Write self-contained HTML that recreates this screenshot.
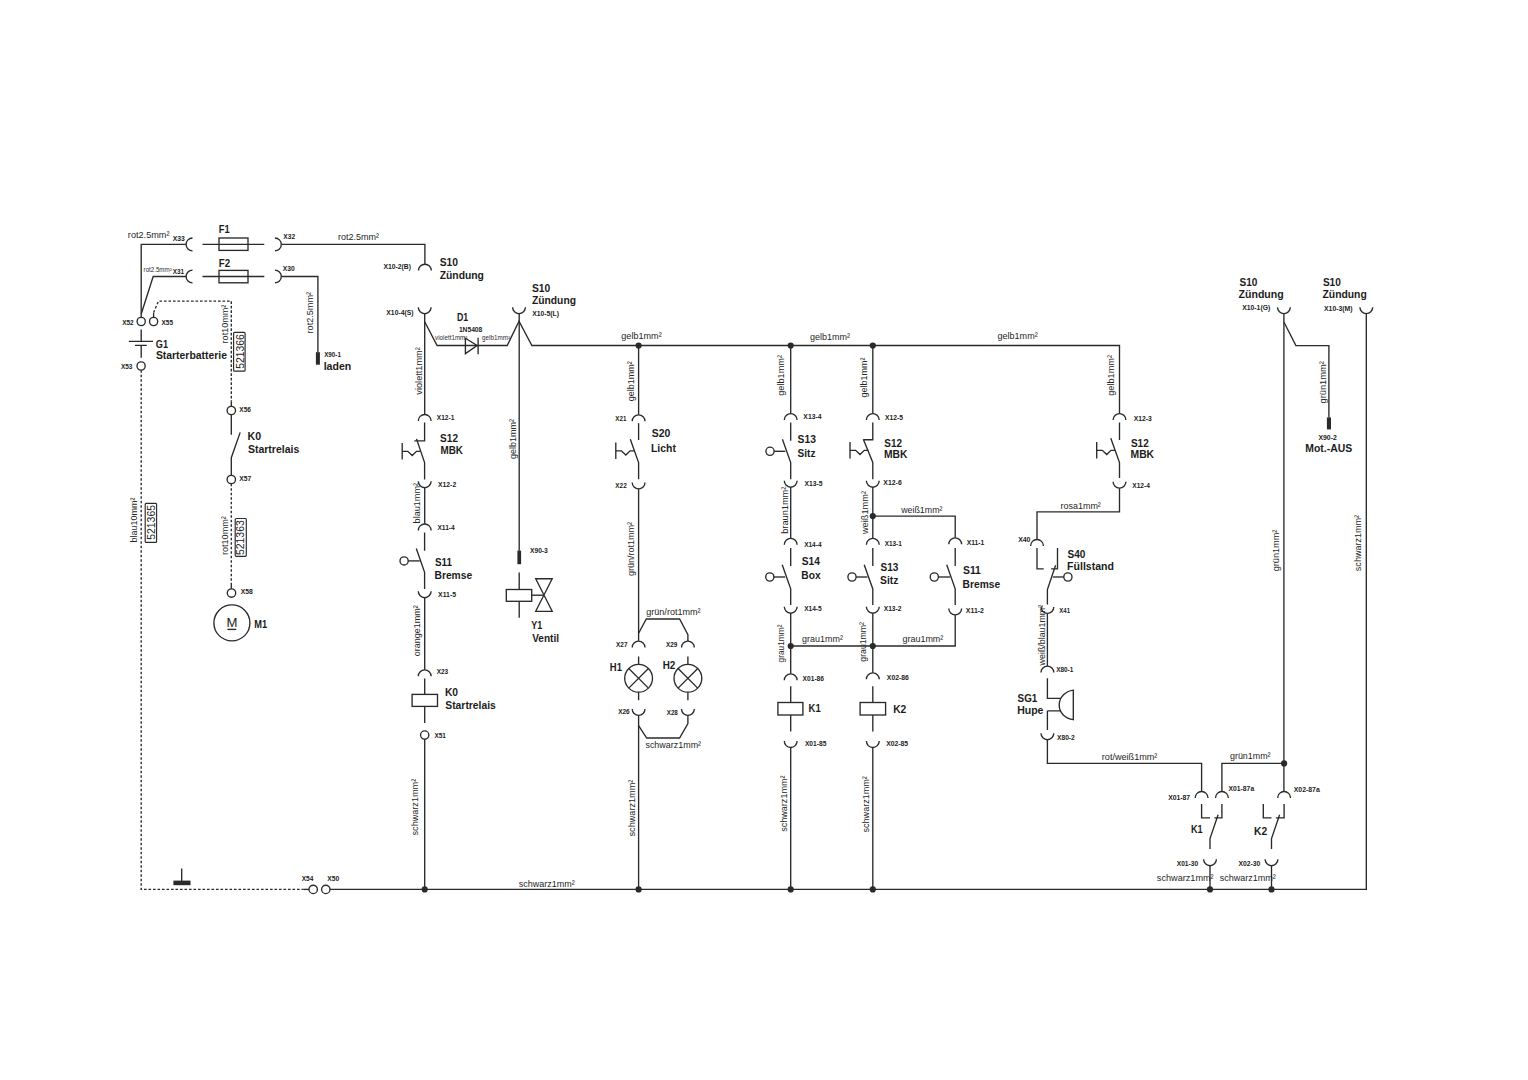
<!DOCTYPE html>
<html><head><meta charset="utf-8"><title>Schaltplan</title>
<style>
html,body{margin:0;padding:0;background:#fff;}
body{width:1528px;height:1080px;overflow:hidden;}
svg{display:block;}
text{font-family:"Liberation Sans",sans-serif;}
</style></head><body>
<svg width="1528" height="1080" viewBox="0 0 1528 1080">
<rect width="1528" height="1080" fill="#fff"/>
<g fill="none" stroke="#2a2a2a" stroke-width="1.35" stroke-linecap="butt" stroke-linejoin="miter">
<path d="M141.2 317.4V244.4H185.9"/>
<path d="M192.50 238.00A6.4 6.4 0 0 0 192.50 250.80"/>
<path d="M202.5 244.4H264.3"/>
<rect x="219" y="238" width="29" height="12.4"/>
<path d="M274.90 238.00A6.4 6.4 0 0 1 274.90 250.80"/>
<path d="M281.5 244.4H424.9V264"/>
<path d="M418.50 270.60A6.4 6.4 0 0 1 431.30 270.60"/>
<path d="M192.50 270.10A6.4 6.4 0 0 0 192.50 282.90"/>
<path d="M185.9 276.5H153.2L141.2 314"/>
<path d="M202.5 276.5H264.3"/>
<rect x="219" y="270.4" width="29" height="12.4"/>
<path d="M274.90 270.10A6.4 6.4 0 0 1 274.90 282.90"/>
<path d="M281.5 276.5H317.9V352.5"/>
<rect x="315.9" y="352.2" width="4.0" height="12.5" fill="#2a2a2a" stroke="none"/>
<text stroke="none" x="127.89" y="238.3" font-size="9.0" fill="#262626" textLength="41.58" lengthAdjust="spacingAndGlyphs">rot2.5mm²</text>
<text stroke="none" x="172.74" y="240.7" font-size="7.0" font-weight="bold" fill="#1c1c1c" textLength="12.11" lengthAdjust="spacingAndGlyphs">X33</text>
<text stroke="none" x="218.78" y="233.4" font-size="10.4" font-weight="bold" fill="#1c1c1c" textLength="10.88" lengthAdjust="spacingAndGlyphs">F1</text>
<text stroke="none" x="283.34" y="238.89999999999998" font-size="7.0" font-weight="bold" fill="#1c1c1c" textLength="11.72" lengthAdjust="spacingAndGlyphs">X32</text>
<text stroke="none" x="337.90" y="239.8" font-size="9.0" fill="#262626" textLength="41.07" lengthAdjust="spacingAndGlyphs">rot2.5mm²</text>
<text stroke="none" x="218.74" y="267.0" font-size="10.4" font-weight="bold" fill="#1c1c1c" textLength="11.45" lengthAdjust="spacingAndGlyphs">F2</text>
<text stroke="none" x="143.59" y="272.2" font-size="6.5" fill="#2e2e2e" textLength="28.13" lengthAdjust="spacingAndGlyphs">rot2.5mm²</text>
<text stroke="none" x="172.74" y="273.7" font-size="7.0" font-weight="bold" fill="#1c1c1c" textLength="11.44" lengthAdjust="spacingAndGlyphs">X31</text>
<text stroke="none" x="282.74" y="271.3" font-size="7.0" font-weight="bold" fill="#1c1c1c" textLength="11.93" lengthAdjust="spacingAndGlyphs">X30</text>
<text stroke="none" transform="translate(313.4 333.40) rotate(-90)" font-size="9.0" fill="#262626" textLength="41.38" lengthAdjust="spacingAndGlyphs">rot2.5mm²</text>
<text stroke="none" x="324.14" y="357.3" font-size="7.0" font-weight="bold" fill="#1c1c1c" textLength="16.83" lengthAdjust="spacingAndGlyphs">X90-1</text>
<text stroke="none" x="323.66" y="369.8" font-size="10.4" font-weight="bold" fill="#1c1c1c" textLength="27.59" lengthAdjust="spacingAndGlyphs">laden</text>
<text stroke="none" x="383.44" y="268.5" font-size="7.0" font-weight="bold" fill="#1c1c1c" textLength="27.50" lengthAdjust="spacingAndGlyphs">X10-2(B)</text>
<text stroke="none" x="439.70" y="266.4" font-size="10.4" font-weight="bold" fill="#1c1c1c" textLength="18.32" lengthAdjust="spacingAndGlyphs">S10</text>
<text stroke="none" x="439.69" y="278.8" font-size="10.4" font-weight="bold" fill="#1c1c1c" textLength="44.20" lengthAdjust="spacingAndGlyphs">Zündung</text>
<circle cx="141.2" cy="321.5" r="4.1"/>
<circle cx="153.6" cy="321.5" r="4.1"/>
<text stroke="none" x="122.14" y="324.9" font-size="7.0" font-weight="bold" fill="#1c1c1c" textLength="11.52" lengthAdjust="spacingAndGlyphs">X52</text>
<text stroke="none" x="161.54" y="324.7" font-size="7.0" font-weight="bold" fill="#1c1c1c" textLength="11.44" lengthAdjust="spacingAndGlyphs">X55</text>
<path d="M153.6 317.4V312.6"/>
<path d="M153.6 312.6L158.5 301.1H231.3V401.3" stroke-dasharray="2.6 1.9"/>
<path d="M231.3 401.3V406.3"/>
<path d="M141.2 329.4V341.4M128.8 341.4H153M135 345.3H146.8M141.2 345.3V357.7"/>
<circle cx="141.1" cy="366.0" r="4.1"/>
<text stroke="none" x="120.94" y="369.0" font-size="7.0" font-weight="bold" fill="#1c1c1c" textLength="11.49" lengthAdjust="spacingAndGlyphs">X53</text>
<text stroke="none" x="155.82" y="348.2" font-size="10.4" font-weight="bold" fill="#1c1c1c" textLength="12.23" lengthAdjust="spacingAndGlyphs">G1</text>
<text stroke="none" x="155.90" y="358.7" font-size="10.4" font-weight="bold" fill="#1c1c1c" textLength="71.05" lengthAdjust="spacingAndGlyphs">Starterbatterie</text>
<text stroke="none" transform="translate(227.6 343.40) rotate(-90)" font-size="9.0" fill="#262626" textLength="38.77" lengthAdjust="spacingAndGlyphs">rot10mm²</text>
<rect x="233.6" y="332.4" width="11.5" height="38.8" rx="1" stroke-width="1.15"/>
<text stroke="none" transform="translate(243.8 368.82) rotate(-90)" font-size="10.0" fill="#222" textLength="34.67" lengthAdjust="spacingAndGlyphs">521366</text>
<circle cx="231.3" cy="410.5" r="4.2"/>
<text stroke="none" x="239.34" y="411.5" font-size="7.0" font-weight="bold" fill="#1c1c1c" textLength="11.49" lengthAdjust="spacingAndGlyphs">X56</text>
<path d="M231.3 414.7V434.7M240.2 432.4L231.3 457.7V475.3"/>
<text stroke="none" x="247.49" y="439.9" font-size="10.4" font-weight="bold" fill="#1c1c1c" textLength="13.54" lengthAdjust="spacingAndGlyphs">K0</text>
<text stroke="none" x="247.90" y="453.4" font-size="10.4" font-weight="bold" fill="#1c1c1c" textLength="51.33" lengthAdjust="spacingAndGlyphs">Startrelais</text>
<circle cx="231.3" cy="479.5" r="4.2"/>
<text stroke="none" x="239.34" y="481.4" font-size="7.0" font-weight="bold" fill="#1c1c1c" textLength="11.95" lengthAdjust="spacingAndGlyphs">X57</text>
<path d="M231.3 483.7V583" stroke-dasharray="2.6 1.9"/>
<path d="M231.3 583V588.8"/>
<text stroke="none" transform="translate(228.2 555.00) rotate(-90)" font-size="9.0" fill="#262626" textLength="38.77" lengthAdjust="spacingAndGlyphs">rot10mm²</text>
<rect x="235.2" y="518.5" width="11.1" height="37.8" rx="1" stroke-width="1.15"/>
<text stroke="none" transform="translate(244.4 555.12) rotate(-90)" font-size="10.0" fill="#222" textLength="34.88" lengthAdjust="spacingAndGlyphs">521363</text>
<circle cx="231.5" cy="593.0" r="4.2"/>
<text stroke="none" x="240.74" y="594.3000000000001" font-size="7.0" font-weight="bold" fill="#1c1c1c" textLength="12.07" lengthAdjust="spacingAndGlyphs">X58</text>
<circle cx="231.9" cy="622.9" r="18.0"/>
<text stroke="none" x="226.42" y="626.6" font-size="12.8" fill="#1c1c1c" textLength="10.96" lengthAdjust="spacingAndGlyphs">M</text>
<path d="M227.4 629.4H236.2"/>
<text stroke="none" x="254.18" y="628.0" font-size="10.4" font-weight="bold" fill="#1c1c1c" textLength="12.88" lengthAdjust="spacingAndGlyphs">M1</text>
<path d="M141.2 370.2V889.4H303.6" stroke-dasharray="2.6 1.9"/>
<path d="M303.6 889.4H309"/>
<text stroke="none" transform="translate(137.4 542.38) rotate(-90)" font-size="9.0" fill="#262626" textLength="44.95" lengthAdjust="spacingAndGlyphs">blau10mm²</text>
<rect x="145.2" y="503.4" width="11.4" height="39" rx="1" stroke-width="1.15"/>
<text stroke="none" transform="translate(154.8 539.82) rotate(-90)" font-size="10.0" fill="#222" textLength="34.86" lengthAdjust="spacingAndGlyphs">521365</text>
<path d="M181.7 868.5V881"/>
<rect x="173.4" y="880.6" width="17.1" height="4.6" fill="#2a2a2a" stroke="none"/>
<circle cx="313.2" cy="889.4" r="4.2"/>
<circle cx="325.8" cy="889.4" r="4.2"/>
<text stroke="none" x="301.74" y="881.3000000000001" font-size="7.0" font-weight="bold" fill="#1c1c1c" textLength="11.69" lengthAdjust="spacingAndGlyphs">X54</text>
<text stroke="none" x="327.34" y="881.3000000000001" font-size="7.0" font-weight="bold" fill="#1c1c1c" textLength="11.93" lengthAdjust="spacingAndGlyphs">X50</text>
<path d="M330 889.4H1366.3V313.8"/>
<text stroke="none" x="518.75" y="887.0" font-size="9.0" fill="#262626" textLength="56.02" lengthAdjust="spacingAndGlyphs">schwarz1mm²</text>
<path d="M418.30 307.30A6.4 6.4 0 0 0 431.10 307.30"/>
<text stroke="none" x="386.34" y="314.7" font-size="7.0" font-weight="bold" fill="#1c1c1c" textLength="27.20" lengthAdjust="spacingAndGlyphs">X10-4(S)</text>
<path d="M424.7 313.9V414.3"/>
<path d="M424.7 321.8L437.1 345.5H507.2L519 321.3L531.9 345.5H1119.5V413.4"/>
<text stroke="none" transform="translate(422.0 394.63) rotate(-90)" font-size="9.0" fill="#262626" textLength="47.41" lengthAdjust="spacingAndGlyphs">violett1mm²</text>
<path d="M465.4 338.3L477.1 345.5L465.4 353.6Z"/>
<path d="M478.1 337.7V354.2"/>
<text stroke="none" x="456.91" y="321.4" font-size="10.4" font-weight="bold" fill="#1c1c1c" textLength="11.23" lengthAdjust="spacingAndGlyphs">D1</text>
<text stroke="none" x="458.88" y="332.2" font-size="7.0" font-weight="bold" fill="#1c1c1c" textLength="23.43" lengthAdjust="spacingAndGlyphs">1N5408</text>
<text stroke="none" x="435.08" y="339.9" font-size="6.5" fill="#2e2e2e" textLength="32.34" lengthAdjust="spacingAndGlyphs">violett1mm²</text>
<text stroke="none" x="482.04" y="339.9" font-size="6.5" fill="#2e2e2e" textLength="27.98" lengthAdjust="spacingAndGlyphs">gelb1mm²</text>
<path d="M512.60 307.30A6.4 6.4 0 0 0 525.40 307.30"/>
<text stroke="none" x="532.24" y="315.5" font-size="7.0" font-weight="bold" fill="#1c1c1c" textLength="26.80" lengthAdjust="spacingAndGlyphs">X10-5(L)</text>
<text stroke="none" x="532.00" y="291.6" font-size="10.4" font-weight="bold" fill="#1c1c1c" textLength="18.32" lengthAdjust="spacingAndGlyphs">S10</text>
<text stroke="none" x="531.99" y="303.9" font-size="10.4" font-weight="bold" fill="#1c1c1c" textLength="43.99" lengthAdjust="spacingAndGlyphs">Zündung</text>
<path d="M418.30 420.90A6.4 6.4 0 0 1 431.10 420.90"/>
<text stroke="none" x="436.84" y="420.09999999999997" font-size="7.0" font-weight="bold" fill="#1c1c1c" textLength="17.44" lengthAdjust="spacingAndGlyphs">X12-1</text>
<path d="M424.6 422.4V440.9H414.3M416.5 438.9L424.6 462.6V479.4"/>
<path d="M402.2 443.0V459.40000000000003"/>
<path d="M402.2 451.3H407.8L412.2 455.6L416.5 451.3H420.4"/>
<text stroke="none" x="440.11" y="442.2" font-size="10.4" font-weight="bold" fill="#1c1c1c" textLength="17.89" lengthAdjust="spacingAndGlyphs">S12</text>
<text stroke="none" x="440.44" y="454.0" font-size="10.4" font-weight="bold" fill="#1c1c1c" textLength="22.55" lengthAdjust="spacingAndGlyphs">MBK</text>
<path d="M418.30 481.30A6.4 6.4 0 0 0 431.10 481.30"/>
<text stroke="none" x="438.04" y="486.7" font-size="7.0" font-weight="bold" fill="#1c1c1c" textLength="18.13" lengthAdjust="spacingAndGlyphs">X12-2</text>
<path d="M424.7 487.9V523.8"/>
<text stroke="none" transform="translate(420.0 523.39) rotate(-90)" font-size="9.0" fill="#262626" textLength="40.36" lengthAdjust="spacingAndGlyphs">blau1mm²</text>
<path d="M418.30 530.40A6.4 6.4 0 0 1 431.10 530.40"/>
<text stroke="none" x="437.44" y="530.1" font-size="7.0" font-weight="bold" fill="#1c1c1c" textLength="17.29" lengthAdjust="spacingAndGlyphs">X11-4</text>
<path d="M424.6 532.4V550.7M416.3 548.5L424.6 572.4V588.9"/>
<circle cx="404.1" cy="560.9" r="4.1"/>
<path d="M408.2 560.9H419.8"/>
<text stroke="none" x="434.92" y="565.8" font-size="10.4" font-weight="bold" fill="#1c1c1c" textLength="17.04" lengthAdjust="spacingAndGlyphs">S11</text>
<text stroke="none" x="434.51" y="578.7" font-size="10.4" font-weight="bold" fill="#1c1c1c" textLength="37.64" lengthAdjust="spacingAndGlyphs">Bremse</text>
<path d="M418.30 591.30A6.4 6.4 0 0 0 431.10 591.30"/>
<text stroke="none" x="438.04" y="597.3000000000001" font-size="7.0" font-weight="bold" fill="#1c1c1c" textLength="18.05" lengthAdjust="spacingAndGlyphs">X11-5</text>
<path d="M424.7 597.9V669.7"/>
<text stroke="none" transform="translate(419.6 656.18) rotate(-90)" font-size="9.0" fill="#262626" textLength="50.95" lengthAdjust="spacingAndGlyphs">orange1mm²</text>
<path d="M418.30 676.30A6.4 6.4 0 0 1 431.10 676.30"/>
<text stroke="none" x="436.64" y="674.3000000000001" font-size="7.0" font-weight="bold" fill="#1c1c1c" textLength="11.49" lengthAdjust="spacingAndGlyphs">X23</text>
<path d="M424.7 678.5V694.4"/>
<rect x="412.1" y="694.4" width="25.4" height="12.0"/>
<path d="M424.7 706.4V723"/>
<text stroke="none" x="444.91" y="696.1" font-size="10.4" font-weight="bold" fill="#1c1c1c" textLength="13.11" lengthAdjust="spacingAndGlyphs">K0</text>
<text stroke="none" x="445.30" y="709.4" font-size="10.4" font-weight="bold" fill="#1c1c1c" textLength="50.52" lengthAdjust="spacingAndGlyphs">Startrelais</text>
<circle cx="424.7" cy="735.1" r="4.15"/>
<text stroke="none" x="434.44" y="738.0" font-size="7.0" font-weight="bold" fill="#1c1c1c" textLength="11.44" lengthAdjust="spacingAndGlyphs">X51</text>
<path d="M424.7 739.3V889.4"/>
<circle cx="424.7" cy="889.4" r="3.1" fill="#2a2a2a" stroke="none"/>
<text stroke="none" transform="translate(418.4 835.45) rotate(-90)" font-size="9.0" fill="#262626" textLength="56.63" lengthAdjust="spacingAndGlyphs">schwarz1mm²</text>
<path d="M519.2 313.9V550.8"/>
<text stroke="none" transform="translate(516.0 458.88) rotate(-90)" font-size="9.0" fill="#262626" textLength="39.95" lengthAdjust="spacingAndGlyphs">gelb1mm²</text>
<rect x="517.4" y="550.6" width="3.7" height="13.6" fill="#2a2a2a" stroke="none"/>
<text stroke="none" x="529.94" y="552.5" font-size="7.0" font-weight="bold" fill="#1c1c1c" textLength="17.90" lengthAdjust="spacingAndGlyphs">X90-3</text>
<path d="M519.2 572.4V589.5M519.2 601.3V617.7"/>
<rect x="506.3" y="589.5" width="25.4" height="11.8"/>
<path d="M531.7 595.2H543.9"/>
<path d="M535.7 578.7H552.2L535.7 611.3H552.2Z" stroke-linejoin="miter"/>
<text stroke="none" x="531.35" y="628.7" font-size="10.4" font-weight="bold" fill="#1c1c1c" textLength="11.00" lengthAdjust="spacingAndGlyphs">Y1</text>
<text stroke="none" x="532.13" y="642.0" font-size="10.4" font-weight="bold" fill="#1c1c1c" textLength="26.87" lengthAdjust="spacingAndGlyphs">Ventil</text>
<circle cx="638.6" cy="345.5" r="3.1" fill="#2a2a2a" stroke="none"/>
<text stroke="none" x="621.32" y="338.6" font-size="9.0" fill="#262626" textLength="40.35" lengthAdjust="spacingAndGlyphs">gelb1mm²</text>
<path d="M638.6 345.5V414.7"/>
<text stroke="none" transform="translate(634.3 401.18) rotate(-90)" font-size="9.0" fill="#262626" textLength="39.95" lengthAdjust="spacingAndGlyphs">gelb1mm²</text>
<path d="M632.20 421.30A6.4 6.4 0 0 1 645.00 421.30"/>
<text stroke="none" x="615.35" y="421.2" font-size="7.0" font-weight="bold" fill="#1c1c1c" textLength="11.03" lengthAdjust="spacingAndGlyphs">X21</text>
<path d="M638.6 423.3V440M630.3 439.2L638.6 462.5V479.2"/>
<path d="M615.8 442.5V458.90000000000003"/>
<path d="M615.8 450.8H621.4L625.8 455.1L630.0999999999999 450.8H634.0"/>
<text stroke="none" x="651.80" y="437.3" font-size="10.4" font-weight="bold" fill="#1c1c1c" textLength="18.53" lengthAdjust="spacingAndGlyphs">S20</text>
<text stroke="none" x="651.00" y="451.5" font-size="10.4" font-weight="bold" fill="#1c1c1c" textLength="24.93" lengthAdjust="spacingAndGlyphs">Licht</text>
<path d="M632.20 482.50A6.4 6.4 0 0 0 645.00 482.50"/>
<text stroke="none" x="615.34" y="487.8" font-size="7.0" font-weight="bold" fill="#1c1c1c" textLength="11.41" lengthAdjust="spacingAndGlyphs">X22</text>
<path d="M638.6 489.1V640.9"/>
<text stroke="none" transform="translate(634.2 576.08) rotate(-90)" font-size="9.0" fill="#262626" textLength="54.15" lengthAdjust="spacingAndGlyphs">grün/rot1mm²</text>
<path d="M638.6 633.2L646.3 619H679.6L687.9 634.6V640.9"/>
<text stroke="none" x="646.32" y="614.6" font-size="9.0" fill="#262626" textLength="54.15" lengthAdjust="spacingAndGlyphs">grün/rot1mm²</text>
<path d="M632.20 647.50A6.4 6.4 0 0 1 645.00 647.50"/>
<path d="M681.50 647.50A6.4 6.4 0 0 1 694.30 647.50"/>
<text stroke="none" x="616.04" y="646.6" font-size="7.0" font-weight="bold" fill="#1c1c1c" textLength="11.44" lengthAdjust="spacingAndGlyphs">X27</text>
<text stroke="none" x="666.04" y="647.0" font-size="7.0" font-weight="bold" fill="#1c1c1c" textLength="11.39" lengthAdjust="spacingAndGlyphs">X29</text>
<path d="M638.6 656.4V664.4M638.6 692.2V700.3"/>
<circle cx="638.6" cy="678.3" r="13.9"/>
<path d="M628.77 668.47L648.43 688.13M648.43 668.47L628.77 688.13"/>
<path d="M687.9 656.4V664.4M687.9 692.2V700.3"/>
<circle cx="687.9" cy="678.3" r="13.9"/>
<path d="M678.07 668.47L697.73 688.13M697.73 668.47L678.07 688.13"/>
<text stroke="none" x="609.87" y="670.5" font-size="10.4" font-weight="bold" fill="#1c1c1c" textLength="12.10" lengthAdjust="spacingAndGlyphs">H1</text>
<text stroke="none" x="662.64" y="669.1" font-size="10.4" font-weight="bold" fill="#1c1c1c" textLength="12.66" lengthAdjust="spacingAndGlyphs">H2</text>
<path d="M632.20 708.90A6.4 6.4 0 0 0 645.00 708.90"/>
<path d="M681.50 708.90A6.4 6.4 0 0 0 694.30 708.90"/>
<text stroke="none" x="618.14" y="713.9000000000001" font-size="7.0" font-weight="bold" fill="#1c1c1c" textLength="11.49" lengthAdjust="spacingAndGlyphs">X26</text>
<text stroke="none" x="666.75" y="715.3000000000001" font-size="7.0" font-weight="bold" fill="#1c1c1c" textLength="11.05" lengthAdjust="spacingAndGlyphs">X28</text>
<path d="M638.6 715.5V889.4"/>
<path d="M638.6 725.6L646.7 738H679.6L687.9 723.5V715.5"/>
<text stroke="none" x="645.45" y="747.8" font-size="9.0" fill="#262626" textLength="55.62" lengthAdjust="spacingAndGlyphs">schwarz1mm²</text>
<text stroke="none" transform="translate(635.2 836.45) rotate(-90)" font-size="9.0" fill="#262626" textLength="56.83" lengthAdjust="spacingAndGlyphs">schwarz1mm²</text>
<circle cx="638.6" cy="889.4" r="3.1" fill="#2a2a2a" stroke="none"/>
<circle cx="790.7" cy="345.5" r="3.1" fill="#2a2a2a" stroke="none"/>
<text stroke="none" x="810.02" y="339.8" font-size="9.0" fill="#262626" textLength="39.95" lengthAdjust="spacingAndGlyphs">gelb1mm²</text>
<path d="M790.7 345.5V413.4"/>
<text stroke="none" transform="translate(784.3 395.78) rotate(-90)" font-size="9.0" fill="#262626" textLength="40.76" lengthAdjust="spacingAndGlyphs">gelb1mm²</text>
<path d="M784.30 420.00A6.4 6.4 0 0 1 797.10 420.00"/>
<text stroke="none" x="803.34" y="418.7" font-size="7.0" font-weight="bold" fill="#1c1c1c" textLength="18.20" lengthAdjust="spacingAndGlyphs">X13-4</text>
<path d="M790.7 422.5V440.8M782.4 439.2L790.7 462.5V479.2"/>
<circle cx="770.0" cy="451.3" r="4.1"/>
<path d="M774.1 451.3H785.3"/>
<text stroke="none" x="797.60" y="443.1" font-size="10.4" font-weight="bold" fill="#1c1c1c" textLength="18.37" lengthAdjust="spacingAndGlyphs">S13</text>
<text stroke="none" x="797.61" y="456.5" font-size="10.4" font-weight="bold" fill="#1c1c1c" textLength="17.85" lengthAdjust="spacingAndGlyphs">Sitz</text>
<path d="M784.30 480.80A6.4 6.4 0 0 0 797.10 480.80"/>
<text stroke="none" x="804.54" y="486.2" font-size="7.0" font-weight="bold" fill="#1c1c1c" textLength="17.95" lengthAdjust="spacingAndGlyphs">X13-5</text>
<path d="M790.7 487.4V538.1"/>
<text stroke="none" transform="translate(787.8 533.79) rotate(-90)" font-size="9.0" fill="#262626" textLength="47.17" lengthAdjust="spacingAndGlyphs">braun1mm²</text>
<path d="M784.30 544.70A6.4 6.4 0 0 1 797.10 544.70"/>
<text stroke="none" x="804.14" y="546.7" font-size="7.0" font-weight="bold" fill="#1c1c1c" textLength="17.39" lengthAdjust="spacingAndGlyphs">X14-4</text>
<path d="M790.7 548V565.9M782.2 564.7L790.7 588.9V605"/>
<circle cx="769.8" cy="577.0" r="4.1"/>
<path d="M773.9 577H785.2"/>
<text stroke="none" x="801.71" y="564.9" font-size="10.4" font-weight="bold" fill="#1c1c1c" textLength="18.15" lengthAdjust="spacingAndGlyphs">S14</text>
<text stroke="none" x="801.31" y="579.3" font-size="10.4" font-weight="bold" fill="#1c1c1c" textLength="19.36" lengthAdjust="spacingAndGlyphs">Box</text>
<path d="M784.30 606.80A6.4 6.4 0 0 0 797.10 606.80"/>
<text stroke="none" x="804.14" y="610.9000000000001" font-size="7.0" font-weight="bold" fill="#1c1c1c" textLength="17.54" lengthAdjust="spacingAndGlyphs">X14-5</text>
<path d="M790.7 613.4V673.7"/>
<text stroke="none" transform="translate(784.2 662.45) rotate(-90)" font-size="9.0" fill="#262626" textLength="37.91" lengthAdjust="spacingAndGlyphs">grau1mm²</text>
<circle cx="790.7" cy="646.0" r="3.1" fill="#2a2a2a" stroke="none"/>
<path d="M790.7 646H955.2V615.1"/>
<text stroke="none" x="802.12" y="642.0" font-size="9.0" fill="#262626" textLength="40.75" lengthAdjust="spacingAndGlyphs">grau1mm²</text>
<text stroke="none" x="902.52" y="642.0" font-size="9.0" fill="#262626" textLength="40.75" lengthAdjust="spacingAndGlyphs">grau1mm²</text>
<path d="M784.30 680.30A6.4 6.4 0 0 1 797.10 680.30"/>
<text stroke="none" x="802.54" y="680.9000000000001" font-size="7.0" font-weight="bold" fill="#1c1c1c" textLength="21.50" lengthAdjust="spacingAndGlyphs">X01-86</text>
<path d="M790.7 686.3V702.5"/>
<rect x="777.9" y="702.5" width="25.0" height="12.5"/>
<path d="M790.7 715V731.4"/>
<text stroke="none" x="808.57" y="711.8" font-size="10.4" font-weight="bold" fill="#1c1c1c" textLength="12.10" lengthAdjust="spacingAndGlyphs">K1</text>
<path d="M784.30 741.10A6.4 6.4 0 0 0 797.10 741.10"/>
<text stroke="none" x="804.94" y="746.2" font-size="7.0" font-weight="bold" fill="#1c1c1c" textLength="21.44" lengthAdjust="spacingAndGlyphs">X01-85</text>
<path d="M790.7 747.7V889.4"/>
<text stroke="none" transform="translate(787.2 831.75) rotate(-90)" font-size="9.0" fill="#262626" textLength="56.22" lengthAdjust="spacingAndGlyphs">schwarz1mm²</text>
<circle cx="790.7" cy="889.4" r="3.1" fill="#2a2a2a" stroke="none"/>
<circle cx="872.8" cy="345.5" r="3.1" fill="#2a2a2a" stroke="none"/>
<path d="M872.8 345.5V413.4"/>
<text stroke="none" transform="translate(866.6 397.48) rotate(-90)" font-size="9.0" fill="#262626" textLength="39.95" lengthAdjust="spacingAndGlyphs">gelb1mm²</text>
<path d="M866.40 420.00A6.4 6.4 0 0 1 879.20 420.00"/>
<text stroke="none" x="885.04" y="420.3" font-size="7.0" font-weight="bold" fill="#1c1c1c" textLength="17.95" lengthAdjust="spacingAndGlyphs">X12-5</text>
<path d="M872.8 422.5V439.7H863.3M863.3 439.2L872.8 462.5V479.2"/>
<path d="M850.0 442.0V458.40000000000003"/>
<path d="M850.0 450.3H855.6L860.0 454.6L864.3 450.3H868.4"/>
<text stroke="none" x="884.32" y="446.5" font-size="10.4" font-weight="bold" fill="#1c1c1c" textLength="17.58" lengthAdjust="spacingAndGlyphs">S12</text>
<text stroke="none" x="883.91" y="458.1" font-size="10.4" font-weight="bold" fill="#1c1c1c" textLength="23.49" lengthAdjust="spacingAndGlyphs">MBK</text>
<path d="M866.40 480.80A6.4 6.4 0 0 0 879.20 480.80"/>
<text stroke="none" x="883.34" y="484.5" font-size="7.0" font-weight="bold" fill="#1c1c1c" textLength="18.41" lengthAdjust="spacingAndGlyphs">X12-6</text>
<path d="M872.8 487.4V538.1"/>
<circle cx="872.8" cy="516.1" r="3.1" fill="#2a2a2a" stroke="none"/>
<path d="M872.8 516.1H955.2V537.7"/>
<text stroke="none" x="901.21" y="513.3" font-size="9.0" fill="#262626" textLength="41.26" lengthAdjust="spacingAndGlyphs">weiß1mm²</text>
<text stroke="none" transform="translate(868.3 534.09) rotate(-90)" font-size="9.0" fill="#262626" textLength="43.06" lengthAdjust="spacingAndGlyphs">weiß1mm²</text>
<path d="M866.40 544.70A6.4 6.4 0 0 1 879.20 544.70"/>
<text stroke="none" x="884.64" y="546.2" font-size="7.0" font-weight="bold" fill="#1c1c1c" textLength="17.14" lengthAdjust="spacingAndGlyphs">X13-1</text>
<path d="M872.8 548V565.9M864.2 564.7L872.8 588.9V605"/>
<circle cx="852.0" cy="577.0" r="4.1"/>
<path d="M856.1 577H867.5"/>
<text stroke="none" x="880.51" y="570.8" font-size="10.4" font-weight="bold" fill="#1c1c1c" textLength="17.85" lengthAdjust="spacingAndGlyphs">S13</text>
<text stroke="none" x="880.00" y="583.6" font-size="10.4" font-weight="bold" fill="#1c1c1c" textLength="18.37" lengthAdjust="spacingAndGlyphs">Sitz</text>
<path d="M866.40 606.80A6.4 6.4 0 0 0 879.20 606.80"/>
<text stroke="none" x="883.74" y="610.9000000000001" font-size="7.0" font-weight="bold" fill="#1c1c1c" textLength="17.72" lengthAdjust="spacingAndGlyphs">X13-2</text>
<path d="M872.8 613.4V672.7"/>
<text stroke="none" transform="translate(866.0 661.66) rotate(-90)" font-size="9.0" fill="#262626" textLength="39.53" lengthAdjust="spacingAndGlyphs">grau1mm²</text>
<circle cx="872.8" cy="646.0" r="3.1" fill="#2a2a2a" stroke="none"/>
<path d="M866.40 679.30A6.4 6.4 0 0 1 879.20 679.30"/>
<text stroke="none" x="886.84" y="680.2" font-size="7.0" font-weight="bold" fill="#1c1c1c" textLength="22.11" lengthAdjust="spacingAndGlyphs">X02-86</text>
<path d="M872.8 686.3V702.5"/>
<rect x="860.1" y="702.5" width="25.5" height="12.5"/>
<path d="M872.8 715V731.4"/>
<text stroke="none" x="893.21" y="713.1" font-size="10.4" font-weight="bold" fill="#1c1c1c" textLength="13.10" lengthAdjust="spacingAndGlyphs">K2</text>
<path d="M866.40 741.10A6.4 6.4 0 0 0 879.20 741.10"/>
<text stroke="none" x="886.14" y="746.2" font-size="7.0" font-weight="bold" fill="#1c1c1c" textLength="22.05" lengthAdjust="spacingAndGlyphs">X02-85</text>
<path d="M872.8 747.7V889.4"/>
<text stroke="none" transform="translate(868.7 832.45) rotate(-90)" font-size="9.0" fill="#262626" textLength="56.22" lengthAdjust="spacingAndGlyphs">schwarz1mm²</text>
<circle cx="872.8" cy="889.4" r="3.1" fill="#2a2a2a" stroke="none"/>
<path d="M948.80 544.30A6.4 6.4 0 0 1 961.60 544.30"/>
<text stroke="none" x="966.64" y="544.5" font-size="7.0" font-weight="bold" fill="#1c1c1c" textLength="17.64" lengthAdjust="spacingAndGlyphs">X11-1</text>
<path d="M955.2 548V565.9M946.7 564.7L955.2 588.9V605"/>
<circle cx="934.3" cy="577.0" r="4.1"/>
<path d="M938.4 577H950"/>
<text stroke="none" x="963.01" y="574.2" font-size="10.4" font-weight="bold" fill="#1c1c1c" textLength="17.87" lengthAdjust="spacingAndGlyphs">S11</text>
<text stroke="none" x="962.61" y="587.8" font-size="10.4" font-weight="bold" fill="#1c1c1c" textLength="37.64" lengthAdjust="spacingAndGlyphs">Bremse</text>
<path d="M948.80 608.50A6.4 6.4 0 0 0 961.60 608.50"/>
<text stroke="none" x="965.84" y="613.1" font-size="7.0" font-weight="bold" fill="#1c1c1c" textLength="18.03" lengthAdjust="spacingAndGlyphs">X11-2</text>
<text stroke="none" x="997.52" y="339.0" font-size="9.0" fill="#262626" textLength="40.15" lengthAdjust="spacingAndGlyphs">gelb1mm²</text>
<text stroke="none" transform="translate(1114.2 395.78) rotate(-90)" font-size="9.0" fill="#262626" textLength="40.76" lengthAdjust="spacingAndGlyphs">gelb1mm²</text>
<path d="M1113.10 420.00A6.4 6.4 0 0 1 1125.90 420.00"/>
<text stroke="none" x="1133.64" y="420.59999999999997" font-size="7.0" font-weight="bold" fill="#1c1c1c" textLength="18.10" lengthAdjust="spacingAndGlyphs">X12-3</text>
<path d="M1119.5 422.5V440M1110.8 438.3L1119.5 462.5V478"/>
<path d="M1096.7 442.0V458.40000000000003"/>
<path d="M1096.7 450.3H1102.3L1106.7 454.6L1111.0 450.3H1115.0"/>
<text stroke="none" x="1130.91" y="447.3" font-size="10.4" font-weight="bold" fill="#1c1c1c" textLength="17.79" lengthAdjust="spacingAndGlyphs">S12</text>
<text stroke="none" x="1130.51" y="458.1" font-size="10.4" font-weight="bold" fill="#1c1c1c" textLength="23.59" lengthAdjust="spacingAndGlyphs">MBK</text>
<path d="M1113.10 481.70A6.4 6.4 0 0 0 1125.90 481.70"/>
<text stroke="none" x="1132.34" y="487.8" font-size="7.0" font-weight="bold" fill="#1c1c1c" textLength="17.49" lengthAdjust="spacingAndGlyphs">X12-4</text>
<path d="M1119.5 488.3V511.9H1037V539.3"/>
<text stroke="none" x="1060.50" y="508.7" font-size="9.0" fill="#262626" textLength="40.37" lengthAdjust="spacingAndGlyphs">rosa1mm²</text>
<path d="M1030.60 545.90A6.4 6.4 0 0 1 1043.40 545.90"/>
<text stroke="none" x="1018.14" y="541.7" font-size="7.0" font-weight="bold" fill="#1c1c1c" textLength="12.35" lengthAdjust="spacingAndGlyphs">X40</text>
<path d="M1037 548.1V568.9H1043.7M1057.5 548.1V568.9H1051.1M1055.6 565.2L1047.4 589.6V604.4"/>
<path d="M1052.8 577H1063.8"/>
<circle cx="1067.9" cy="577.0" r="4.1"/>
<text stroke="none" x="1067.51" y="557.6" font-size="10.4" font-weight="bold" fill="#1c1c1c" textLength="17.90" lengthAdjust="spacingAndGlyphs">S40</text>
<text stroke="none" x="1067.10" y="570.2" font-size="10.4" font-weight="bold" fill="#1c1c1c" textLength="46.80" lengthAdjust="spacingAndGlyphs">Füllstand</text>
<path d="M1041.00 607.00A6.4 6.4 0 0 0 1053.80 607.00"/>
<text stroke="none" x="1059.35" y="612.8000000000001" font-size="7.0" font-weight="bold" fill="#1c1c1c" textLength="10.62" lengthAdjust="spacingAndGlyphs">X41</text>
<path d="M1047.4 613.6V666"/>
<text stroke="none" transform="translate(1044.6 665.39) rotate(-90)" font-size="9.0" fill="#262626" textLength="60.56" lengthAdjust="spacingAndGlyphs">weiß/blau1mm²</text>
<path d="M1041.00 672.50A6.4 6.4 0 0 1 1053.80 672.50"/>
<text stroke="none" x="1056.14" y="671.5" font-size="7.0" font-weight="bold" fill="#1c1c1c" textLength="17.14" lengthAdjust="spacingAndGlyphs">X80-1</text>
<path d="M1047.4 678.3V698.3H1060.4M1047.4 710.8H1060.4M1047.4 710.8V730"/>
<path d="M1073.3 690.2V719.7C1065.5 718.6 1059.2 713 1059.2 705C1059.2 697 1065.5 691.3 1073.3 690.2Z"/>
<text stroke="none" x="1017.62" y="702.3" font-size="10.4" font-weight="bold" fill="#1c1c1c" textLength="19.76" lengthAdjust="spacingAndGlyphs">SG1</text>
<text stroke="none" x="1017.20" y="714.3" font-size="10.4" font-weight="bold" fill="#1c1c1c" textLength="26.26" lengthAdjust="spacingAndGlyphs">Hupe</text>
<path d="M1041.00 733.30A6.4 6.4 0 0 0 1053.80 733.30"/>
<text stroke="none" x="1057.04" y="739.5" font-size="7.0" font-weight="bold" fill="#1c1c1c" textLength="17.72" lengthAdjust="spacingAndGlyphs">X80-2</text>
<path d="M1047.4 739.9V763.4H1201.6V791.5"/>
<text stroke="none" x="1101.80" y="759.6" font-size="9.0" fill="#262626" textLength="55.58" lengthAdjust="spacingAndGlyphs">rot/weiß1mm²</text>
<path d="M1195.20 797.90A6.4 6.4 0 0 1 1208.00 797.90"/>
<path d="M1215.50 797.90A6.4 6.4 0 0 1 1228.30 797.90"/>
<text stroke="none" x="1168.14" y="799.5" font-size="7.0" font-weight="bold" fill="#1c1c1c" textLength="21.96" lengthAdjust="spacingAndGlyphs">X01-87</text>
<text stroke="none" x="1228.54" y="791.4000000000001" font-size="7.0" font-weight="bold" fill="#1c1c1c" textLength="25.62" lengthAdjust="spacingAndGlyphs">X01-87a</text>
<path d="M1221.9 791.5V763.4H1284.1"/>
<circle cx="1284.1" cy="763.4" r="3.1" fill="#2a2a2a" stroke="none"/>
<text stroke="none" x="1230.03" y="759.2" font-size="9.0" fill="#262626" textLength="40.54" lengthAdjust="spacingAndGlyphs">grün1mm²</text>
<path d="M1201.6 804V817.8H1210M1221.9 804V817.8H1214.4M1218.1 814.8L1210 838.5V848.9"/>
<text stroke="none" x="1190.99" y="833.1" font-size="10.4" font-weight="bold" fill="#1c1c1c" textLength="11.66" lengthAdjust="spacingAndGlyphs">K1</text>
<path d="M1203.60 859.30A6.4 6.4 0 0 0 1216.40 859.30"/>
<text stroke="none" x="1176.74" y="866.2" font-size="7.0" font-weight="bold" fill="#1c1c1c" textLength="21.43" lengthAdjust="spacingAndGlyphs">X01-30</text>
<path d="M1210 865.9V889.4"/>
<circle cx="1210.0" cy="889.4" r="3.1" fill="#2a2a2a" stroke="none"/>
<text stroke="none" x="1156.85" y="881.3" font-size="9.0" fill="#262626" textLength="56.83" lengthAdjust="spacingAndGlyphs">schwarz1mm²</text>
<path d="M1277.70 797.90A6.4 6.4 0 0 1 1290.50 797.90"/>
<text stroke="none" x="1293.74" y="791.9000000000001" font-size="7.0" font-weight="bold" fill="#1c1c1c" textLength="26.02" lengthAdjust="spacingAndGlyphs">X02-87a</text>
<path d="M1263.3 804V817.8H1271.5M1284.1 804V817.8H1275.9M1279.6 814.8L1271.5 838.5V848.9"/>
<text stroke="none" x="1254.11" y="834.6" font-size="10.4" font-weight="bold" fill="#1c1c1c" textLength="13.10" lengthAdjust="spacingAndGlyphs">K2</text>
<path d="M1265.10 859.30A6.4 6.4 0 0 0 1277.90 859.30"/>
<text stroke="none" x="1238.44" y="865.5" font-size="7.0" font-weight="bold" fill="#1c1c1c" textLength="21.94" lengthAdjust="spacingAndGlyphs">X02-30</text>
<path d="M1271.5 865.9V889.4"/>
<circle cx="1271.5" cy="889.4" r="3.1" fill="#2a2a2a" stroke="none"/>
<text stroke="none" x="1219.75" y="881.3" font-size="9.0" fill="#262626" textLength="56.02" lengthAdjust="spacingAndGlyphs">schwarz1mm²</text>
<path d="M1277.50 307.20A6.4 6.4 0 0 0 1290.30 307.20"/>
<text stroke="none" x="1242.24" y="310.3" font-size="7.0" font-weight="bold" fill="#1c1c1c" textLength="28.00" lengthAdjust="spacingAndGlyphs">X10-1(G)</text>
<text stroke="none" x="1239.51" y="285.7" font-size="10.4" font-weight="bold" fill="#1c1c1c" textLength="17.90" lengthAdjust="spacingAndGlyphs">S10</text>
<text stroke="none" x="1238.59" y="298.0" font-size="10.4" font-weight="bold" fill="#1c1c1c" textLength="45.12" lengthAdjust="spacingAndGlyphs">Zündung</text>
<path d="M1283.9 313.8V791.5"/>
<path d="M1283.9 322L1295.9 345.6H1328.9V417.5"/>
<rect x="1326.9" y="417.4" width="4.1" height="12.0" fill="#2a2a2a" stroke="none"/>
<text stroke="none" x="1318.44" y="440.09999999999997" font-size="7.0" font-weight="bold" fill="#1c1c1c" textLength="18.34" lengthAdjust="spacingAndGlyphs">X90-2</text>
<text stroke="none" x="1305.30" y="451.5" font-size="10.4" font-weight="bold" fill="#1c1c1c" textLength="46.90" lengthAdjust="spacingAndGlyphs">Mot.-AUS</text>
<text stroke="none" transform="translate(1325.6 403.49) rotate(-90)" font-size="9.0" fill="#262626" textLength="42.37" lengthAdjust="spacingAndGlyphs">grün1mm²</text>
<text stroke="none" transform="translate(1279.0 571.28) rotate(-90)" font-size="9.0" fill="#262626" textLength="41.56" lengthAdjust="spacingAndGlyphs">grün1mm²</text>
<path d="M1359.90 307.20A6.4 6.4 0 0 0 1372.70 307.20"/>
<text stroke="none" x="1324.04" y="310.59999999999997" font-size="7.0" font-weight="bold" fill="#1c1c1c" textLength="28.50" lengthAdjust="spacingAndGlyphs">X10-3(M)</text>
<text stroke="none" x="1322.91" y="285.7" font-size="10.4" font-weight="bold" fill="#1c1c1c" textLength="17.90" lengthAdjust="spacingAndGlyphs">S10</text>
<text stroke="none" x="1322.49" y="298.0" font-size="10.4" font-weight="bold" fill="#1c1c1c" textLength="44.30" lengthAdjust="spacingAndGlyphs">Zündung</text>
<text stroke="none" transform="translate(1361.4 571.15) rotate(-90)" font-size="9.0" fill="#262626" textLength="56.22" lengthAdjust="spacingAndGlyphs">schwarz1mm²</text>
</g>
</svg>
</body></html>
